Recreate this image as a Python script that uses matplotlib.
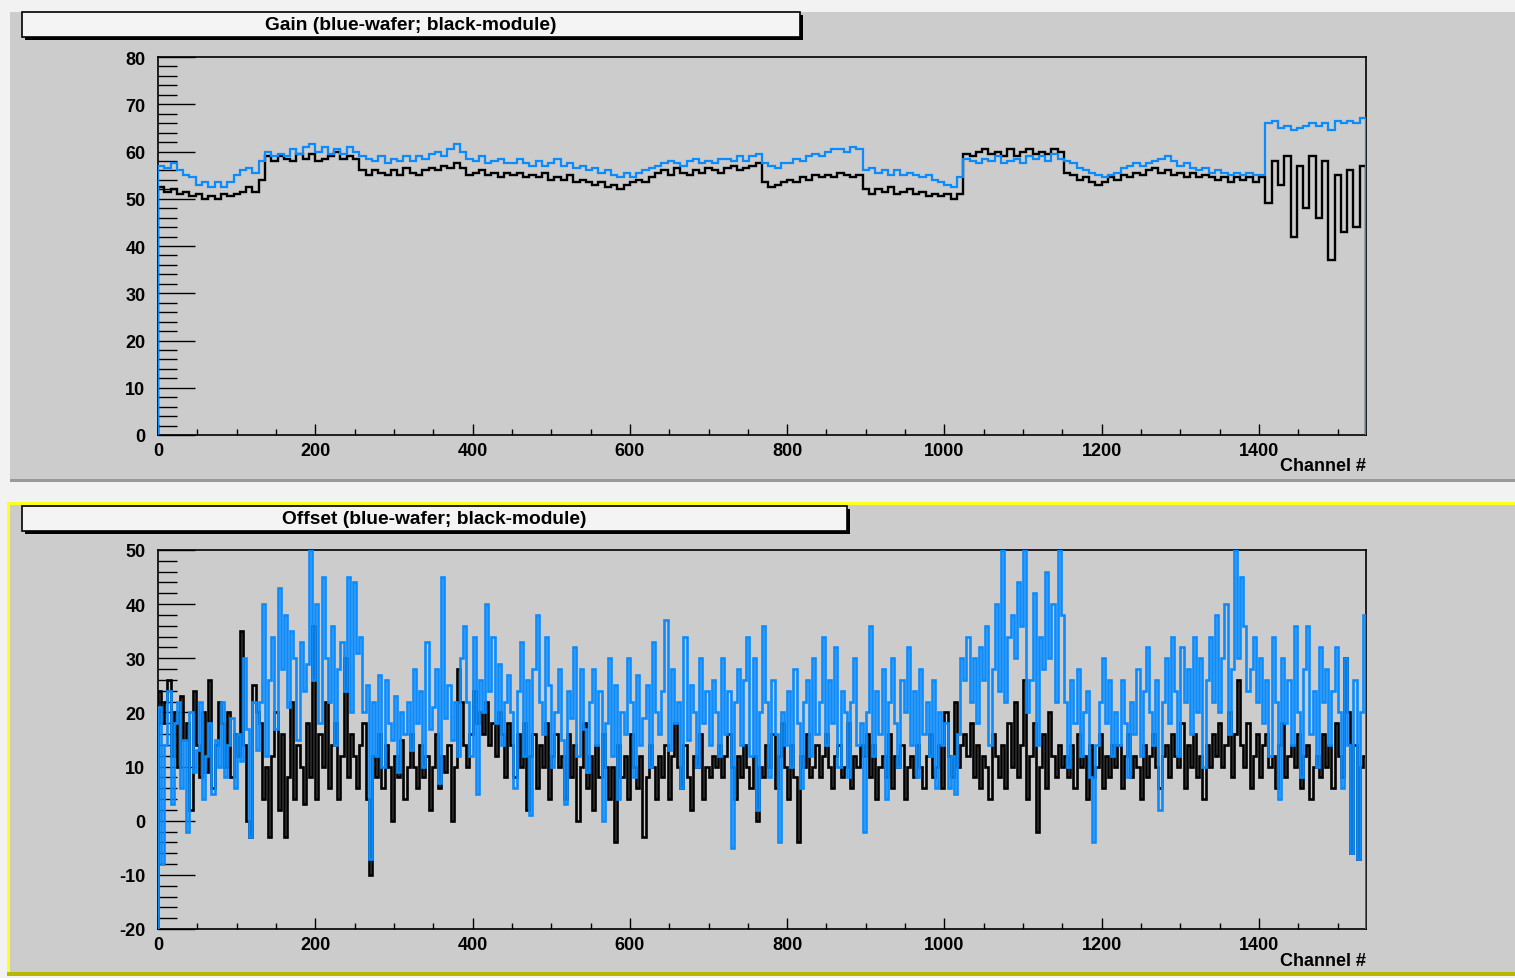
import numpy as np
import matplotlib.pyplot as plt
from matplotlib.patches import Rectangle
from matplotlib.ticker import MultipleLocator

plt.rcParams['axes.unicode_minus'] = False

# Channel range of the readout
n_channels = 1536

# Gain per channel, 8-channel bins (blue = wafer, black = module)
gain_wafer = [57, 56.5, 57.5, 56, 55, 54.5, 53, 53.5,
              52.5, 53.5, 52.5, 53.5, 55, 56, 56.5, 55.5,
              58, 60, 59, 59.5, 59, 60.5, 59.5, 61,
              61.5, 60, 61, 59.5, 60.5, 59.5, 61, 60,
              59, 58.5, 58, 59, 57.5, 58.5, 58, 59,
              58, 59, 58.5, 59.5, 60, 59, 60.5, 61.5,
              60, 58.5, 58, 59, 57.5, 58, 58.5, 57.5,
              57.5, 58.5, 57.5, 57, 58, 57, 57.5, 58.5,
              57, 57.5, 56.5, 57, 56, 56.5, 55.5, 56,
              55, 54.5, 55.5, 54.5, 55.5, 56, 56.5, 57,
              57.5, 58, 57.5, 57, 58, 58.5, 57.5, 58,
              57.5, 58.5, 58.5, 58, 59, 58, 59, 59.5,
              57.5, 57, 56.5, 57.5, 57.5, 58.5, 58, 59,
              59.5, 59, 60, 60.5, 60.5, 60, 61, 60.5,
              56, 56.5, 55.5, 56, 55, 56, 55, 55.5,
              55, 54.5, 55, 54, 53.5, 53, 52.5, 54.5,
              58.5, 58, 57.5, 58.5, 58, 59, 57.5, 58,
              58.5, 57.5, 59, 58.5, 59, 58, 59.5, 58.5,
              58, 57.5, 56.5, 56, 55.5, 55, 54.5, 55,
              55.5, 56.5, 57, 57.5, 57, 57.5, 58, 58.5,
              59, 58, 57, 57.5, 56.5, 56, 56.5, 55.5,
              56, 55.5, 55, 55.5, 55, 55.5, 55, 55,
              66, 66.5, 65, 65.5, 64.5, 65, 65.5, 66,
              65.5, 66, 64.5, 66.5, 66, 66.5, 66, 67]

gain_module = [52.5, 51.5, 52, 51, 51.5, 50.5, 51, 50,
               50.5, 50, 51, 50.5, 51, 51.5, 52.5, 51.5,
               54, 59, 58, 59, 58.5, 58, 59.5, 58.5,
               59.5, 58, 58.5, 59, 60, 58.5, 59, 58.5,
               56, 55, 56, 55.5, 55, 56, 55, 56.5,
               55.5, 55, 56, 56.5, 56, 57, 56.5, 57.5,
               56.5, 55, 55.5, 56, 55, 55.5, 54.5, 55.5,
               55, 55.5, 54.5, 55, 54.5, 55.5, 54, 54.5,
               54, 55, 53.5, 54, 53.5, 53, 53.5, 52.5,
               53, 52, 53, 53.5, 54, 53.5, 54.5, 55.5,
               56, 55, 56.5, 55.5, 55, 56, 55.5, 56.5,
               56, 55.5, 56.5, 57, 56, 56.5, 57, 57.5,
               53.5, 52.5, 53, 53.5, 54, 53.5, 54.5, 54,
               55, 54.5, 55, 54.5, 55.5, 55, 54.5, 55,
               52, 51, 52, 51.5, 52.5, 51, 51.5, 52,
               51, 51.5, 50.5, 51, 50.5, 51, 50, 51,
               59.5, 59, 60, 60.5, 59.5, 60, 59, 60.5,
               59, 60, 60.5, 59.5, 60, 59.5, 60.5, 60,
               55.5, 55, 54, 54.5, 53.5, 53, 53.5, 54.5,
               54, 55, 54.5, 55.5, 55, 56, 56.5, 55.5,
               56, 55, 55.5, 54.5, 55.5, 54.5, 55, 54.5,
               54, 54.5, 53.5, 54.5, 54, 54.5, 53.5, 54.5,
               49, 58, 53, 59, 42, 57, 48, 59,
               46, 58, 37, 55, 43, 56, 44, 57]

# Offset per channel, 4-channel bins
offset_wafer = [21, -8, 14, 24, 3, 18, 22, 6, 15, -2, 20, 9, 13, 22, 4, 12,
                18, 5, 15, 10, 22, 8, 14, 19, 6, 16, 11, 30, 17, -3, 22, 13,
                22, 40, 12, 26, 34, 17, 43, 28, 38, 21, 35, 30, 15, 33, 24, 29,
                50, 26, 40, 18, 45, 30, 22, 36, 14, 28, 33, 24, 45, 20, 44, 31,
                34, 20, 25, -7, 22, 12, 27, 10, 26, 18, 15, 23, 9, 20, 16, 22,
                13, 28, 18, 24, 10, 33, 17, 21, 28, 7, 45, 19, 25, 15, 22, 12,
                30, 36, 22, 12, 34, 5, 26, 20, 40, 24, 34, 18, 29, 14, 22, 27,
                20, 6, 24, 33, 12, 26, 1, 28, 38, 22, 16, 34, 25, 10, 20, 28,
                15, 3, 24, 19, 32, 12, 28, 17, 9, 22, 28, 14, 24, 0, 18, 30,
                12, 25, 4, 20, 16, 30, 22, 8, 27, 14, 19, 25, 10, 33, 20, 16,
                24, 37, 13, 28, 18, 22, 6, 34, 15, 25, 20, 10, 30, 18, 24, 14,
                26, 20, 12, 30, 16, 24, -5, 22, 28, 14, 26, 34, 12, 30, 2, 20,
                36, 22, 8, 26, 16, -4, 20, 14, 24, 10, 28, 18, 6, 22, 26, 12,
                30, 16, 22, 34, 14, 26, 18, 32, 10, 24, 20, 8, 22, 30, 14, 18,
                -2, 20, 36, 12, 24, 16, 28, 4, 22, 30, 18, 10, 26, 20, 32, 14,
                24, 8, 28, 16, 22, 12, 26, 6, 20, 14, 18, 6, 12, 5, 16, 30,
                26, 34, 22, 30, 18, 32, 26, 36, 14, 28, 40, 24, 50, 22, 34, 38,
                30, 44, 36, 50, 20, 26, 42, 14, 34, 28, 46, 30, 40, 22, 50, 38,
                22, 10, 26, 18, 28, 12, 20, 24, 8, -4, 14, 22, 30, 18, 26, 12,
                20, 14, 26, 18, 8, 22, 16, 28, 12, 24, 32, 20, 14, 26, 2, 22,
                30, 18, 34, 24, 12, 32, 22, 28, 16, 34, 20, 30, 10, 26, 34, 22,
                38, 20, 30, 40, 16, 28, 50, 30, 45, 36, 24, 28, 34, 22, 30, 18,
                26, 12, 34, 22, 4, 30, 18, 26, 14, 36, 20, 8, 28, 36, 16, 24,
                10, 32, 22, 28, 14, 24, 32, 20, 6, 30, 14, -6, 26, -7, 20, 38]

offset_module = [24, 18, 22, 26, 12, 20, 10, 23, 15, 18, 2, 24, 14, 8, 20, 9,
                 26, 6, 14, 22, 18, 10, 20, 8, 16, 12, 35, 14, 0, -3, 25, 20,
                 18, 4, 10, -3, 12, 20, 2, 16, -3, 8, 22, 4, 14, 10, 3, 18,
                 8, 36, 4, 16, 10, 22, 6, 14, 18, 4, 12, 30, 8, 16, 12, 6,
                 14, 18, 4, -10, 12, 8, 16, 6, 14, 10, 0, 12, 8, 15, 4, 10,
                 16, 10, 6, 14, 8, 12, 2, 10, 16, 6, 12, 9, 14, 0, 10, 28,
                 22, 14, 10, 16, 24, 18, 20, 16, 22, 14, 18, 12, 20, 16, 8, 18,
                 14, 8, 16, 10, 18, 2, 12, 16, 6, 14, 10, 18, 4, 12, 16, 10,
                 12, 4, 16, 8, 14, 0, 10, 18, 6, 12, 2, 14, 8, 16, 10, 4,
                 10, -4, 14, 8, 12, 4, 16, 10, 6, 12, -3, 8, 14, 10, 4, 12,
                 8, 14, 4, 12, 18, 10, 6, 14, 8, 2, 12, 10, 16, 4, 10, 8,
                 12, 10, 14, 8, 12, 16, 10, 4, 12, 8, 14, 10, 6, 12, 0, 10,
                 8, 14, 10, 16, 6, 12, 18, 10, 4, 14, 8, -4, 12, 10, 16, 8,
                 10, 14, 8, 12, 16, 10, 6, 12, 14, 8, 10, 18, 6, 12, 10, 14,
                 12, 16, 8, 14, 4, 10, 12, 8, 16, 6, 12, 10, 14, 4, 10, 12,
                 8, 14, 10, 6, 12, 16, 8, 10, 14, 6, 20, 12, 8, 22, 10, 14,
                 16, 12, 18, 8, 14, 6, 12, 10, 4, 16, 12, 8, 14, 6, 18, 10,
                 22, 8, 14, 26, 4, 12, 18, -2, 10, 16, 6, 20, 12, 8, 14, 10,
                 12, 8, 14, 6, 16, 10, 12, 4, 14, 8, 10, 16, 6, 12, 8, 14,
                 10, 14, 6, 12, 16, 8, 12, 10, 4, 14, 8, 12, 16, 10, 6, 12,
                 14, 8, 16, 12, 10, 18, 6, 14, 10, 16, 8, 12, 4, 14, 10, 16,
                 12, 18, 10, 14, 20, 8, 16, 26, 14, 10, 18, 6, 12, 16, 8, 14,
                 16, 10, 12, 6, 14, 18, 8, 12, 14, 10, 16, 6, 12, 14, 4, 10,
                 12, 8, 16, 10, 14, 6, 18, 12, 8, 30, 20, -6, 14, -7, 10, 12]

W, H = 1515, 979
PAD_GRAY = '#cccccc'
BLUE = '#0a8cff'
FONT = ['Liberation Sans', 'DejaVu Sans']
PT = 0.72  # points per pixel at 100 dpi

fig = plt.figure(figsize=(W / 100, H / 100), dpi=100)
fig.patch.set_facecolor('#f2f2f2')


def px_rect(x0, y0, x1, y1, **kw):
    # rectangle given in pixel coordinates (origin top-left)
    r = Rectangle((x0 / W, 1 - y1 / H), (x1 - x0) / W, (y1 - y0) / H,
                  transform=fig.transFigure, **kw)
    fig.add_artist(r)
    return r


def px_axes(x0, y0, x1, y1):
    return fig.add_axes([x0 / W, 1 - y1 / H, (x1 - x0) / W, (y1 - y0) / H])


# pads
px_rect(10, 13, W, 482, facecolor=PAD_GRAY, edgecolor='none', zorder=0)
px_rect(10, 480, W, 483, facecolor='#9a9a9a', edgecolor='none', zorder=0)
px_rect(8, 504, W, 976, facecolor=PAD_GRAY, edgecolor='none', zorder=0)
px_rect(7, 503, W, 506, facecolor='#ffff20', edgecolor='none', zorder=1)
px_rect(7, 503, 10, 976, facecolor='#ffff20', edgecolor='none', zorder=1)
px_rect(7, 973, W, 977, facecolor='#b8b800', edgecolor='none', zorder=1)


def title_box(x0, y0, x1, y1, text):
    px_rect(x0 + 3, y0 + 3, x1 + 3, y1 + 3, facecolor='black', edgecolor='none', zorder=2)
    px_rect(x0, y0, x1, y1, facecolor='#f4f4f4', edgecolor='black', lw=1.2, zorder=3)
    fig.text((x0 + x1) / 2 / W, 1 - (y0 + y1) / 2 / H, text, ha='center', va='center',
             fontsize=13.8, fontweight='bold', family=FONT, zorder=4)


def style_axes(ax, ymin, ymax):
    ax.set_facecolor(PAD_GRAY)
    ax.set_xlim(0, n_channels)
    ax.set_ylim(ymin, ymax)
    ax.xaxis.set_major_locator(MultipleLocator(200))
    ax.xaxis.set_minor_locator(MultipleLocator(50))
    ax.yaxis.set_major_locator(MultipleLocator(10))
    ax.yaxis.set_minor_locator(MultipleLocator(2))
    ax.tick_params(axis='y', which='major', direction='in', length=37 * PT, width=1,
                   pad=9, right=False)
    ax.tick_params(axis='y', which='minor', direction='in', length=19 * PT, width=1,
                   right=False)
    ax.tick_params(axis='x', which='major', direction='in', length=11 * PT, width=1,
                   pad=5, top=False)
    ax.tick_params(axis='x', which='minor', direction='in', length=6 * PT, width=1,
                   top=False)
    for lab in ax.get_xticklabels() + ax.get_yticklabels():
        lab.set_fontweight('bold')
        lab.set_fontsize(13)
        lab.set_family(FONT)
    for s in ax.spines.values():
        s.set_linewidth(1.2)
    ax.text(1.0, -0.082, 'Channel #', transform=ax.transAxes, ha='right', va='center',
            fontsize=13, fontweight='bold', family=FONT)


# Gain
ax1 = px_axes(158, 58, 1366, 436)
style_axes(ax1, 0, 80)
edges_g = np.linspace(0, n_channels, len(gain_module) + 1)
ax1.stairs(gain_module, edges_g, baseline=0, color='black', lw=1.7, zorder=3)
ax1.stairs(gain_wafer, edges_g, baseline=0, color=BLUE, lw=1.6, zorder=3)
title_box(22, 13, 800, 38, 'Gain (blue-wafer; black-module)')

# Offset
ax2 = px_axes(158, 551, 1366, 930)
style_axes(ax2, -20, 50)
edges_o = np.linspace(0, n_channels, len(offset_module) + 1)
ax2.stairs(offset_module, edges_o, baseline=-20, color='black', lw=1.9, zorder=3)
ax2.stairs(offset_wafer, edges_o, baseline=-20, color=BLUE, lw=1.9, zorder=3)
title_box(22, 507, 847, 532, 'Offset (blue-wafer; black-module)')

fig.savefig('out.png', dpi=100, facecolor=fig.get_facecolor())
